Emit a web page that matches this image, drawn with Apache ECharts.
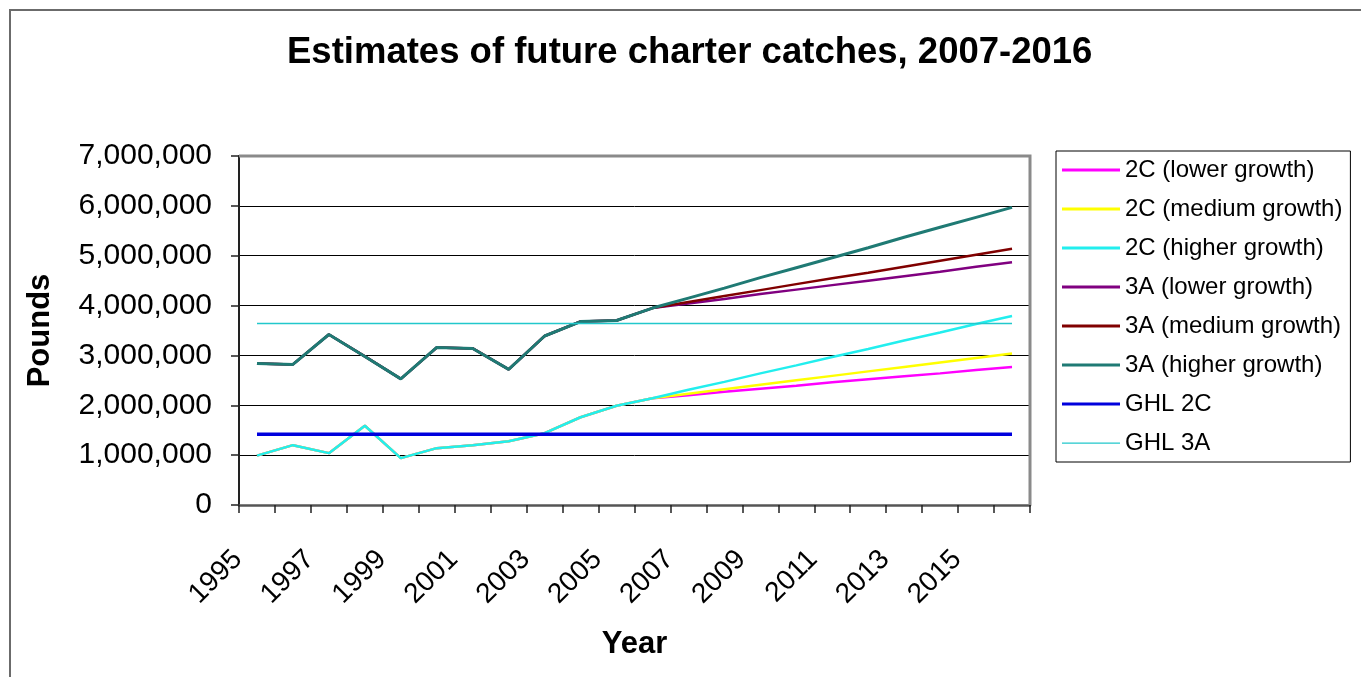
<!DOCTYPE html>
<html>
<head>
<meta charset="utf-8">
<script src="https://cdn.jsdelivr.net/npm/echarts@6/dist/echarts.min.js"></script>
<style>
  html, body { margin: 0; padding: 0; background: #fff; }
  #main { width: 1361px; height: 677px; }
</style>
</head>
<body>
<div id="main"></div>
<script>
// categories
var years = ['1995','1996','1997','1998','1999','2000','2001','2002','2003','2004','2005',
             '2006','2007','2008','2009','2010','2011','2012','2013','2014','2015','2016'];

// actual catches 1995-2006 (pounds)
var hist2C = [990000, 1200000, 1040000, 1590000, 940000, 1140000, 1200000, 1280000, 1440000, 1760000, 1990000, 2140000];
var hist3A = [2840000, 2820000, 3420000, 2980000, 2530000, 3160000, 3140000, 2720000, 3390000, 3680000, 3700000, 3950000];

// projections 2007-2016
var proj2CLow  = [2200000, 2270000, 2330000, 2390000, 2460000, 2520000, 2580000, 2640000, 2710000, 2770000];
var proj2CMed  = [2230000, 2320000, 2410000, 2500000, 2590000, 2680000, 2770000, 2860000, 2950000, 3040000];
var proj2CHigh = [2310000, 2470000, 2640000, 2800000, 2970000, 3130000, 3300000, 3460000, 3630000, 3790000];
var proj3ALow  = [4040000, 4130000, 4230000, 4320000, 4410000, 4500000, 4590000, 4680000, 4780000, 4870000];
var proj3AMed  = [4070000, 4190000, 4310000, 4430000, 4550000, 4660000, 4780000, 4900000, 5020000, 5140000];
var proj3AHigh = [4150000, 4350000, 4560000, 4760000, 4960000, 5160000, 5370000, 5570000, 5770000, 5970000];

// guideline harvest levels
var ghl2C = 1420000;
var ghl3A = 3640000;

var yTicks = { min: 0, max: 7000000, step: 1000000 };

var font = '"Liberation Sans", Arial, sans-serif';

function flat(v) {
  return years.map(function () { return v; });
}

function line(name, data, color, width) {
  return {
    name: name,
    type: 'line',
    data: data,
    symbol: 'none',
    animation: false,
    lineStyle: { color: color, width: width },
    itemStyle: { color: color }
  };
}

var chart = echarts.init(document.getElementById('main'));

chart.setOption({
  backgroundColor: '#fff',
  animation: false,
  title: {
    text: 'Estimates of future charter catches, 2007-2016',
    left: 282,
    top: 29,
    textStyle: { fontFamily: font, fontSize: 36.5, fontWeight: 'bold', color: '#000' }
  },
  legend: {
    orient: 'vertical',
    left: 1056,
    top: 151,
    padding: [7, 8, 7, 6],
    icon: 'rect',
    itemWidth: 58,
    itemHeight: 3,
    itemGap: 15,
    borderColor: '#000',
    borderWidth: 1,
    textStyle: { fontFamily: font, fontSize: 24, lineHeight: 24, color: '#000' },
    data: ['2C (lower growth)', '2C (medium growth)', '2C (higher growth)',
           '3A (lower growth)', '3A (medium growth)', '3A (higher growth)',
           'GHL 2C',
           // thin sample line for the thin series
           { name: 'GHL 3A', icon: 'path://M0,0L58,0M0,1L58,1L58,2.2L0,2.2ZM0,3L58,3' }]
  },
  grid: { left: 239, right: 331, top: 156, bottom: 172 },
  xAxis: {
    type: 'category',
    data: years,
    boundaryGap: true,
    name: 'Year',
    nameLocation: 'middle',
    nameGap: 124,
    nameTextStyle: { fontFamily: font, fontSize: 31, fontWeight: 'bold', color: '#000' },
    axisLine: { lineStyle: { color: '#555', width: 2.5 } },
    axisTick: { show: true, interval: 0, length: 8, lineStyle: { color: '#222', width: 1.5 } },
    axisLabel: {
      interval: 1,
      rotate: 45,
      margin: 31,
      padding: [0, 27, 0, 0],
      fontFamily: font,
      fontSize: 28,
      color: '#000'
    }
  },
  yAxis: {
    type: 'value',
    min: yTicks.min,
    max: yTicks.max,
    interval: yTicks.step,
    name: 'Pounds',
    nameLocation: 'middle',
    nameGap: 183,
    nameTextStyle: { fontFamily: font, fontSize: 31, fontWeight: 'bold', color: '#000' },
    axisLine: { show: true, lineStyle: { color: '#222', width: 2 } },
    axisTick: { show: true, length: 8, lineStyle: { color: '#222', width: 1.5 } },
    axisLabel: {
      margin: 27,
      fontFamily: font,
      fontSize: 30,
      color: '#000',
      formatter: function (v) { return v.toLocaleString('en-US'); }
    },
    splitLine: { lineStyle: { color: '#000', width: 1 } }
  },
  graphic: [
    {
      type: 'rect',
      shape: { x: 10, y: 10, width: 1400, height: 720 },
      style: { fill: 'none', stroke: '#6b6b6b', lineWidth: 2 },
      silent: true
    },
    {
      type: 'polyline',
      shape: { points: [[239, 156], [1030, 156], [1030, 505]] },
      style: { fill: 'none', stroke: '#8a8a8a', lineWidth: 3 },
      z: 100,
      silent: true
    }
  ],
  series: [
    line('2C (lower growth)', hist2C.concat(proj2CLow), '#ff00ff', 2.5),
    line('2C (medium growth)', hist2C.concat(proj2CMed), '#ffff00', 2.5),
    line('2C (higher growth)', hist2C.concat(proj2CHigh), '#22eeee', 2.5),
    line('3A (lower growth)', hist3A.concat(proj3ALow), '#800080', 2.5),
    line('3A (medium growth)', hist3A.concat(proj3AMed), '#800000', 2.5),
    line('3A (higher growth)', hist3A.concat(proj3AHigh), '#1f7a74', 3),
    line('GHL 2C', flat(ghl2C), '#0000dd', 3.5),
    line('GHL 3A', flat(ghl3A), '#22c8cc', 1.5)
  ]
});
</script>
</body>
</html>
